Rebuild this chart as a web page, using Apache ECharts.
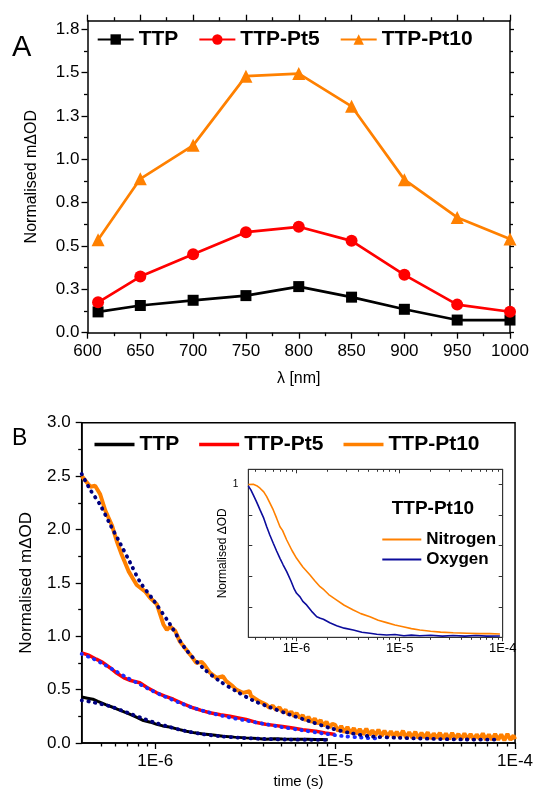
<!DOCTYPE html>
<html><head><meta charset="utf-8">
<script src="https://cdn.jsdelivr.net/npm/echarts@6/dist/echarts.min.js"></script>
<style>html,body{margin:0;padding:0;background:#fff}#c{width:536px;height:790px}</style>
</head><body><div id="c"></div>
<script>
const FONT = '"Liberation Sans", Arial, Helvetica, sans-serif';

// ---------- Panel A data ----------
const wavelengths = [610, 650, 700, 750, 800, 850, 900, 950, 1000];
const aTTP  = [0.120, 0.157, 0.187, 0.214, 0.266, 0.205, 0.135, 0.073, 0.073];
const aPt5  = [0.175, 0.324, 0.453, 0.580, 0.611, 0.530, 0.334, 0.162, 0.121];
const aPt10 = [0.536, 0.888, 1.081, 1.480, 1.495, 1.306, 0.883, 0.665, 0.540];
const aXTicks = [600, 650, 700, 750, 800, 850, 900, 950, 1000];
const aXMinorTicks = [625, 675, 725, 775, 825, 875, 925, 975];
const aYTicks = [0, 0.25, 0.5, 0.75, 1.0, 1.25, 1.5, 1.75];
const aYMinorTicks = [0.125, 0.375, 0.625, 0.875, 1.125, 1.375, 1.625];

// ---------- Panel B data: [time (s), normalised mΔOD] ----------
const bTTP = [[3.9e-7,0.43],[4.2e-7,0.42],[4.5e-7,0.41],[4.8e-7,0.39],[5.3e-7,0.36],[5.9e-7,0.33],[6.5e-7,0.30],[7.2e-7,0.27],[7.9e-7,0.24],[8.6e-7,0.21],[9.4e-7,0.195],[1.02e-6,0.175],[1.1e-6,0.16],[1.2e-6,0.15],[1.33e-6,0.13],[1.49e-6,0.11],[1.66e-6,0.095],[1.85e-6,0.085],[2.1e-6,0.075],[2.38e-6,0.064],[2.75e-6,0.055],[3.2e-6,0.048],[3.7e-6,0.042],[4.1e-6,0.036],[4.6e-6,0.04],[5.1e-6,0.037],[6e-6,0.034],[7e-6,0.036],[7.8e-6,0.032],[8.5e-6,0.033],[9.1e-6,0.03]];
const bTTPFit = [[3.9e-7,0.40],[4.4e-7,0.385],[5e-7,0.365],[5.7e-7,0.34],[6.5e-7,0.305],[7.5e-7,0.265],[8.7e-7,0.225],[1e-6,0.19],[1.2e-6,0.15],[1.45e-6,0.115],[1.8e-6,0.085],[2.3e-6,0.063],[3e-6,0.048],[4e-6,0.038],[5.5e-6,0.032],[7.5e-6,0.03],[9.2e-6,0.029]];
const bPt5 = [[3.9e-7,0.845],[4.3e-7,0.82],[4.7e-7,0.785],[5.1e-7,0.755],[5.6e-7,0.705],[6.1e-7,0.655],[6.7e-7,0.61],[7.3e-7,0.585],[8.2e-7,0.565],[9e-7,0.52],[1.02e-6,0.47],[1.13e-6,0.44],[1.26e-6,0.41],[1.42e-6,0.37],[1.62e-6,0.33],[1.8e-6,0.305],[2.01e-6,0.283],[2.3e-6,0.265],[2.6e-6,0.25],[2.9e-6,0.235],[3.2e-6,0.22],[3.6e-6,0.195],[4.1e-6,0.175],[4.6e-6,0.165],[5.1e-6,0.155],[5.8e-6,0.14],[6.6e-6,0.125],[7.8e-6,0.11],[8.8e-6,0.095],[1e-5,0.08]];
const bPt5Fit = [[3.9e-7,0.835],[4.5e-7,0.79],[5.2e-7,0.735],[6e-7,0.675],[7e-7,0.61],[8.2e-7,0.55],[9.6e-7,0.49],[1.13e-6,0.435],[1.35e-6,0.38],[1.62e-6,0.33],[2e-6,0.285],[2.5e-6,0.245],[3.2e-6,0.21],[4e-6,0.18],[5e-6,0.15],[6.5e-6,0.12],[8.5e-6,0.09],[1.1e-5,0.065],[1.4e-5,0.05],[1.8e-5,0.04]];
const bPt10 = [[3.9e-7,2.50],[4.17e-7,2.44],[4.36e-7,2.40],[4.63e-7,2.41],[4.94e-7,2.33],[5.27e-7,2.18],[5.74e-7,2.04],[6.11e-7,1.89],[6.52e-7,1.76],[7.1e-7,1.61],[7.89e-7,1.48],[8.77e-7,1.42],[9.35e-7,1.36],[1.02e-6,1.30],[1.11e-6,1.11],[1.16e-6,1.06],[1.21e-6,1.09],[1.29e-6,1.05],[1.37e-6,0.95],[1.56e-6,0.83],[1.69e-6,0.75],[1.81e-6,0.76],[1.88e-6,0.73],[2.01e-6,0.66],[2.19e-6,0.61],[2.38e-6,0.625],[2.48e-6,0.58],[2.7e-6,0.53],[2.82e-6,0.50],[3.07e-6,0.47],[3.34e-6,0.485],[3.41e-6,0.44],[3.56e-6,0.42],[3.79e-6,0.39],[4.13e-6,0.36],[4.31e-6,0.33],
  [4.5e-6,0.35],[4.7e-6,0.31],[4.9e-6,0.335],[5.1e-6,0.29],[5.3e-6,0.31],[5.5e-6,0.265],[5.7e-6,0.295],[5.9e-6,0.25],[6.1e-6,0.28],[6.35e-6,0.235],[6.6e-6,0.26],[6.85e-6,0.21],[7.1e-6,0.245],[7.4e-6,0.195],[7.7e-6,0.23],[8.0e-6,0.18],[8.3e-6,0.215],[8.6e-6,0.16],[8.95e-6,0.2],[9.3e-6,0.145],[9.65e-6,0.18],
  [1.00e-5,0.17],[1.04e-5,0.11],[1.08e-5,0.16],[1.12e-5,0.10],[1.17e-5,0.15],[1.22e-5,0.09],[1.27e-5,0.14],[1.32e-5,0.085],[1.37e-5,0.13],[1.43e-5,0.08],[1.49e-5,0.135],[1.55e-5,0.075],[1.61e-5,0.12],[1.67e-5,0.07],[1.74e-5,0.125],[1.81e-5,0.065],[1.88e-5,0.115],[1.96e-5,0.06],[2.04e-5,0.11],[2.12e-5,0.06],[2.2e-5,0.105],[2.29e-5,0.055],[2.38e-5,0.115],[2.48e-5,0.05],[2.58e-5,0.1],[2.68e-5,0.05],[2.79e-5,0.105],[2.9e-5,0.045],[3.02e-5,0.095],[3.14e-5,0.05],[3.27e-5,0.1],[3.4e-5,0.04],[3.53e-5,0.09],[3.67e-5,0.045],[3.82e-5,0.095],[3.97e-5,0.04],[4.13e-5,0.09],[4.3e-5,0.035],[4.47e-5,0.095],[4.65e-5,0.04],[4.84e-5,0.085],[5.03e-5,0.035],[5.23e-5,0.09],[5.44e-5,0.035],[5.66e-5,0.085],[5.89e-5,0.03],[6.12e-5,0.08],[6.37e-5,0.035],[6.62e-5,0.09],[6.89e-5,0.03],[7.16e-5,0.08],[7.45e-5,0.03],[7.75e-5,0.085],[8.06e-5,0.03],[8.38e-5,0.08],[8.72e-5,0.025],[9.07e-5,0.085],[9.43e-5,0.03],[9.81e-5,0.07],[1.0e-4,0.035]];
const bPt10Fit = [[3.9e-7,2.52],[4.36e-7,2.37],[4.94e-7,2.23],[5.6e-7,2.05],[6.38e-7,1.87],[7.25e-7,1.69],[8.22e-7,1.51],[9.75e-7,1.34],[1.21e-6,1.11],[1.46e-6,0.89],[1.85e-6,0.70],[2.28e-6,0.58],[2.82e-6,0.485],[3.48e-6,0.40],[4.31e-6,0.337],[5.56e-6,0.267],[7.18e-6,0.204],[9.27e-6,0.142],[1.2e-5,0.095],[1.61e-5,0.06],[2.26e-5,0.049],[3.45e-5,0.039],[5.28e-5,0.033],[7.74e-5,0.032]];
const bXTicks = [1e-6, 1e-5, 1e-4];
const bXMinorTicks = [5e-7,6e-7,7e-7,8e-7,9e-7,2e-6,3e-6,4e-6,5e-6,6e-6,7e-6,8e-6,9e-6,2e-5,3e-5,4e-5,5e-5,6e-5,7e-5,8e-5,9e-5];
const bYTicks = [0, 0.5, 1.0, 1.5, 2.0, 2.5, 3.0];
const bYMinorTicks = [0.25, 0.75, 1.25, 1.75, 2.25, 2.75];

// ---------- Inset data: [time (s), normalised ΔOD] ----------
const insetNitrogen = [[3.4e-7,1.0],[3.8e-7,1.002],[4.1e-7,0.993],[4.42e-7,0.976],[4.8e-7,0.952],[5.13e-7,0.921],[5.5e-7,0.88],[5.94e-7,0.834],[6.4e-7,0.78],[6.9e-7,0.724],[7.3e-7,0.70],[8.02e-7,0.637],[9e-7,0.57],[1.0e-6,0.517],[1.15e-6,0.46],[1.35e-6,0.408],[1.5e-6,0.37],[1.69e-6,0.331],[1.85e-6,0.31],[2.05e-6,0.28],[2.45e-6,0.244],[2.9e-6,0.21],[3.55e-6,0.179],[4.2e-6,0.155],[5.15e-6,0.135],[6.2e-6,0.112],[7.48e-6,0.096],[9e-6,0.08],[1.08e-5,0.069],[1.3e-5,0.057],[1.57e-5,0.048],[2e-5,0.04],[2.5e-5,0.034],[3.31e-5,0.030],[4.5e-5,0.027],[6e-5,0.024],[7.5e-5,0.024],[9.4e-5,0.022]];
const insetOxygen = [[3.4e-7,0.991],[3.6e-7,0.965],[3.8e-7,0.932],[4.1e-7,0.885],[4.42e-7,0.834],[4.8e-7,0.78],[5.13e-7,0.724],[5.5e-7,0.67],[5.94e-7,0.616],[6.4e-7,0.565],[6.9e-7,0.517],[7.4e-7,0.475],[8.02e-7,0.43],[8.8e-7,0.37],[9.5e-7,0.315],[1.0e-6,0.288],[1.08e-6,0.265],[1.15e-6,0.235],[1.25e-6,0.212],[1.4e-6,0.17],[1.57e-6,0.135],[1.7e-6,0.125],[1.82e-6,0.118],[2.1e-6,0.095],[2.45e-6,0.076],[2.9e-6,0.06],[3.55e-6,0.048],[4.3e-6,0.033],[5.15e-6,0.026],[6e-6,0.02],[7.48e-6,0.015],[9e-6,0.018],[1.1e-5,0.01],[1.3e-5,0.014],[1.57e-5,0.010],[2e-5,0.013],[2.6e-5,0.008],[3.3e-5,0.012],[4.3e-5,0.008],[5.5e-5,0.012],[7e-5,0.008],[9.4e-5,0.009]];
const insetXMinorTicks = [4e-7,5e-7,6e-7,7e-7,8e-7,9e-7,2e-6,3e-6,4e-6,5e-6,6e-6,7e-6,8e-6,9e-6,2e-5,3e-5,4e-5,5e-5,6e-5,7e-5,8e-5,9e-5];
const insetYTicks = [0, 0.2, 0.4, 0.6, 0.8, 1.0];

const BLACK = '#000000', RED = '#ff0000', ORANGE = '#ff8000', NAVY = '#000080', BLUE = '#1a2cff', OXY = '#0c0c9c';

function pairs(xs, ys) { return xs.map((x, i) => [x, ys[i]]); }
function expLabel(v) { return '1E' + Math.round(Math.log10(v)); }

const tickLine = { color: '#000', width: 1.3 };
function ax(o) {
  const base = {
    splitLine: { show: false },
    axisLine: { show: false, onZero: false, lineStyle: { color: '#000', width: 1.5 } },
    axisTick: { show: true, inside: false, length: 6, lineStyle: tickLine },
    axisLabel: { show: false, color: '#000', fontFamily: FONT }
  };
  const r = Object.assign({}, base, o);
  r.axisLine = Object.assign({}, base.axisLine, o.axisLine || {});
  r.axisTick = Object.assign({}, base.axisTick, o.axisTick || {});
  r.axisLabel = Object.assign({}, base.axisLabel, o.axisLabel || {});
  return r;
}

const xAxis = [
  // 0-3 panel A
  ax({ gridIndex: 0, type: 'value', min: 600, max: 1000, position: 'bottom',
       axisLine: { show: true }, axisTick: { customValues: aXTicks, length: 6 },
       axisLabel: { show: true, customValues: aXTicks, fontSize: 17, margin: 10, formatter: v => String(v) },
       name: 'λ [nm]', nameLocation: 'middle', nameGap: 38,
       nameTextStyle: { fontSize: 16, color: '#000', fontFamily: FONT } }),
  ax({ gridIndex: 0, type: 'value', min: 600, max: 1000, position: 'bottom',
       axisTick: { customValues: aXMinorTicks, length: 3.5 } }),
  ax({ gridIndex: 0, type: 'value', min: 600, max: 1000, position: 'top',
       axisLine: { show: true }, axisTick: { customValues: aXTicks, length: 6 } }),
  ax({ gridIndex: 0, type: 'value', min: 600, max: 1000, position: 'top',
       axisTick: { customValues: aXMinorTicks, length: 3.5 } }),
  // 4-5 panel B
  ax({ gridIndex: 1, type: 'log', logBase: 10, min: 3.9e-7, max: 1e-4, position: 'bottom',
       axisLine: { show: true }, axisTick: { customValues: bXTicks, length: 6 },
       axisLabel: { show: true, customValues: bXTicks, fontSize: 17, margin: 10, formatter: expLabel },
       name: 'time (s)', nameLocation: 'middle', nameGap: 31,
       nameTextStyle: { fontSize: 15, color: '#000', fontFamily: FONT } }),
  ax({ gridIndex: 1, type: 'log', logBase: 10, min: 3.9e-7, max: 1e-4, position: 'bottom',
       axisTick: { customValues: bXMinorTicks, length: 3.5 } }),
  // 6-9 inset
  ax({ gridIndex: 2, type: 'log', logBase: 10, min: 3.4e-7, max: 1e-4, position: 'bottom', z: 11,
       axisLine: { show: true, lineStyle: { color: '#333', width: 1 } },
       axisTick: { customValues: bXTicks, length: 4, lineStyle: { color: '#333', width: 1 } },
       axisLabel: { show: true, customValues: bXTicks, fontSize: 13, margin: 5, formatter: expLabel } }),
  ax({ gridIndex: 2, type: 'log', logBase: 10, min: 3.4e-7, max: 1e-4, position: 'bottom', z: 11,
       axisTick: { customValues: insetXMinorTicks, length: 2.5, lineStyle: { color: '#333', width: 1 } } }),
  ax({ gridIndex: 2, type: 'log', logBase: 10, min: 3.4e-7, max: 1e-4, position: 'top', z: 11,
       axisLine: { show: true, lineStyle: { color: '#333', width: 1 } },
       axisTick: { inside: true, customValues: bXTicks, length: 4, lineStyle: { color: '#333', width: 1 } } }),
  ax({ gridIndex: 2, type: 'log', logBase: 10, min: 3.4e-7, max: 1e-4, position: 'top', z: 11,
       axisTick: { inside: true, customValues: insetXMinorTicks, length: 2.5, lineStyle: { color: '#333', width: 1 } } })
];

const yAxis = [
  // 0-3 panel A
  ax({ gridIndex: 0, type: 'value', min: 0, max: 1.8, position: 'left',
       axisLine: { show: true }, axisTick: { customValues: aYTicks, length: 6 },
       axisLabel: { show: true, customValues: aYTicks, fontSize: 17, margin: 8, formatter: v => v.toFixed(1) },
       name: 'Normalised mΔOD', nameLocation: 'middle', nameGap: 48,
       nameTextStyle: { fontSize: 16, color: '#000', fontFamily: FONT } }),
  ax({ gridIndex: 0, type: 'value', min: 0, max: 1.8, position: 'left',
       axisTick: { customValues: aYMinorTicks, length: 3.5 } }),
  ax({ gridIndex: 0, type: 'value', min: 0, max: 1.8, position: 'right',
       axisLine: { show: true }, axisTick: { customValues: aYTicks, length: 4 } }),
  ax({ gridIndex: 0, type: 'value', min: 0, max: 1.8, position: 'right',
       axisTick: { customValues: aYMinorTicks, length: 3 } }),
  // 4-5 panel B
  ax({ gridIndex: 1, type: 'value', min: 0, max: 3, position: 'left',
       axisLine: { show: true }, axisTick: { customValues: bYTicks, length: 6 },
       axisLabel: { show: true, customValues: bYTicks, fontSize: 17, margin: 11, formatter: v => v.toFixed(1) },
       name: 'Normalised mΔOD', nameLocation: 'middle', nameGap: 47,
       nameTextStyle: { fontSize: 17, color: '#000', fontFamily: FONT } }),
  ax({ gridIndex: 1, type: 'value', min: 0, max: 3, position: 'left',
       axisTick: { customValues: bYMinorTicks, length: 3.5 } }),
  // 6-7 inset
  ax({ gridIndex: 2, type: 'value', min: 0, max: 1.1, position: 'left', z: 11,
       axisLine: { show: true, lineStyle: { color: '#333', width: 1 } },
       axisTick: { inside: true, customValues: insetYTicks, length: 4, lineStyle: { color: '#333', width: 1 } },
       axisLabel: { show: true, customValues: [1], fontSize: 10, margin: 10, formatter: v => String(v) },
       name: 'Normalised ΔOD', nameLocation: 'middle', nameGap: 10, nameRotate: 90,
       nameTextStyle: { fontSize: 12, color: '#000', fontFamily: FONT } }),
  ax({ gridIndex: 2, type: 'value', min: 0, max: 1.1, position: 'right', z: 11,
       axisLine: { show: true, lineStyle: { color: '#333', width: 1 } },
       axisTick: { inside: true, customValues: insetYTicks, length: 4, lineStyle: { color: '#333', width: 1 } } })
];

const dotted = (color) => ({ color: color, width: 3.8, type: [0.5, 6.2], cap: 'round' });

const series = [
  // Panel A
  { name: 'TTP', type: 'line', xAxisIndex: 0, yAxisIndex: 0, data: pairs(wavelengths, aTTP),
    symbol: 'rect', symbolSize: 11, color: BLACK, lineStyle: { width: 2.7 }, z: 3 },
  { name: 'TTP-Pt5', type: 'line', xAxisIndex: 0, yAxisIndex: 0, data: pairs(wavelengths, aPt5),
    symbol: 'circle', symbolSize: 12, color: RED, lineStyle: { width: 2.7 }, z: 3 },
  { name: 'TTP-Pt10', type: 'line', xAxisIndex: 0, yAxisIndex: 0, data: pairs(wavelengths, aPt10),
    symbol: 'triangle', symbolSize: 13, color: ORANGE, lineStyle: { width: 2.7 }, z: 3 },
  // Panel B data
  { name: 'TTP', type: 'line', xAxisIndex: 4, yAxisIndex: 4, data: bTTP, symbol: 'none',
    color: BLACK, lineStyle: { width: 3 }, z: 3 },
  { name: 'TTP-Pt5', type: 'line', xAxisIndex: 4, yAxisIndex: 4, data: bPt5, symbol: 'none',
    color: RED, lineStyle: { width: 3.5 }, z: 3 },
  { name: 'TTP-Pt10', type: 'line', xAxisIndex: 4, yAxisIndex: 4, data: bPt10, symbol: 'none',
    color: ORANGE, lineStyle: { width: 4 }, z: 3 },
  // Panel B fits
  { name: 'TTP fit', type: 'line', xAxisIndex: 4, yAxisIndex: 4, data: bTTPFit, symbol: 'none', smooth: 0.3,
    color: NAVY, lineStyle: dotted(NAVY), z: 4 },
  { name: 'TTP-Pt5 fit', type: 'line', xAxisIndex: 4, yAxisIndex: 4, data: bPt5Fit, symbol: 'none', smooth: 0.3,
    color: BLUE, lineStyle: dotted(BLUE), z: 4 },
  { name: 'TTP-Pt10 fit', type: 'line', xAxisIndex: 4, yAxisIndex: 4, data: bPt10Fit, symbol: 'none', smooth: 0.3,
    color: NAVY, lineStyle: dotted(NAVY), z: 4 },
  // Inset
  { name: 'Nitrogen', type: 'line', xAxisIndex: 6, yAxisIndex: 6, data: insetNitrogen, symbol: 'none',
    color: ORANGE, lineStyle: { width: 1.6 }, z: 12 },
  { name: 'Oxygen', type: 'line', xAxisIndex: 6, yAxisIndex: 6, data: insetOxygen, symbol: 'none',
    color: OXY, lineStyle: { width: 1.6 }, z: 12 }
];

const legendText = { fontSize: 21, fontWeight: 'bold', color: '#000', fontFamily: FONT };

const option = {
  animation: false,
  backgroundColor: '#fff',
  grid: [
    { left: 87.5, top: 20.7, width: 422.5, height: 312, show: false },
    { left: 81.7, top: 422.7, width: 435, height: 320.8, show: true, borderColor: '#000', borderWidth: 1.5, backgroundColor: 'transparent' },
    { left: 248.3, top: 469.3, width: 254.4, height: 168, show: true, borderColor: '#333', borderWidth: 1, backgroundColor: '#fff', z: 10 }
  ],
  xAxis: xAxis,
  yAxis: yAxis,
  legend: [
    { data: ['TTP', 'TTP-Pt5', 'TTP-Pt10'], left: 96.7, top: 29, padding: 0, itemWidth: 36, itemHeight: 13,
      itemGap: 20, textStyle: legendText, selectedMode: false },
    { data: ['TTP', 'TTP-Pt5', 'TTP-Pt10'], left: 94.5, top: 434, padding: 0, itemWidth: 40, itemHeight: 3.5,
      itemGap: 20, icon: 'rect', textStyle: legendText, selectedMode: false },
    { data: ['Nitrogen', 'Oxygen'], orient: 'vertical', left: 382.3, top: 531, padding: 0, itemWidth: 39, itemHeight: 2,
      itemGap: 3, icon: 'rect', z: 13, textStyle: { fontSize: 17, fontWeight: 'bold', color: '#000', fontFamily: FONT },
      selectedMode: false }
  ],
  graphic: [
    { type: 'text', left: 12, top: 33, z: 20, style: { text: 'A', fontSize: 29, fontFamily: FONT, fill: '#000' } },
    { type: 'text', left: 12, top: 427, z: 20, style: { text: 'B', fontSize: 23, fontFamily: FONT, fill: '#000' } },
    { type: 'text', left: 391.7, top: 499, z: 20, style: { text: 'TTP-Pt10', fontSize: 19, fontWeight: 'bold', fontFamily: FONT, fill: '#000' } }
  ],
  series: series
};

const chart = echarts.init(document.getElementById('c'), null, { renderer: 'canvas' });
chart.setOption(option);
</script>
</body></html>
